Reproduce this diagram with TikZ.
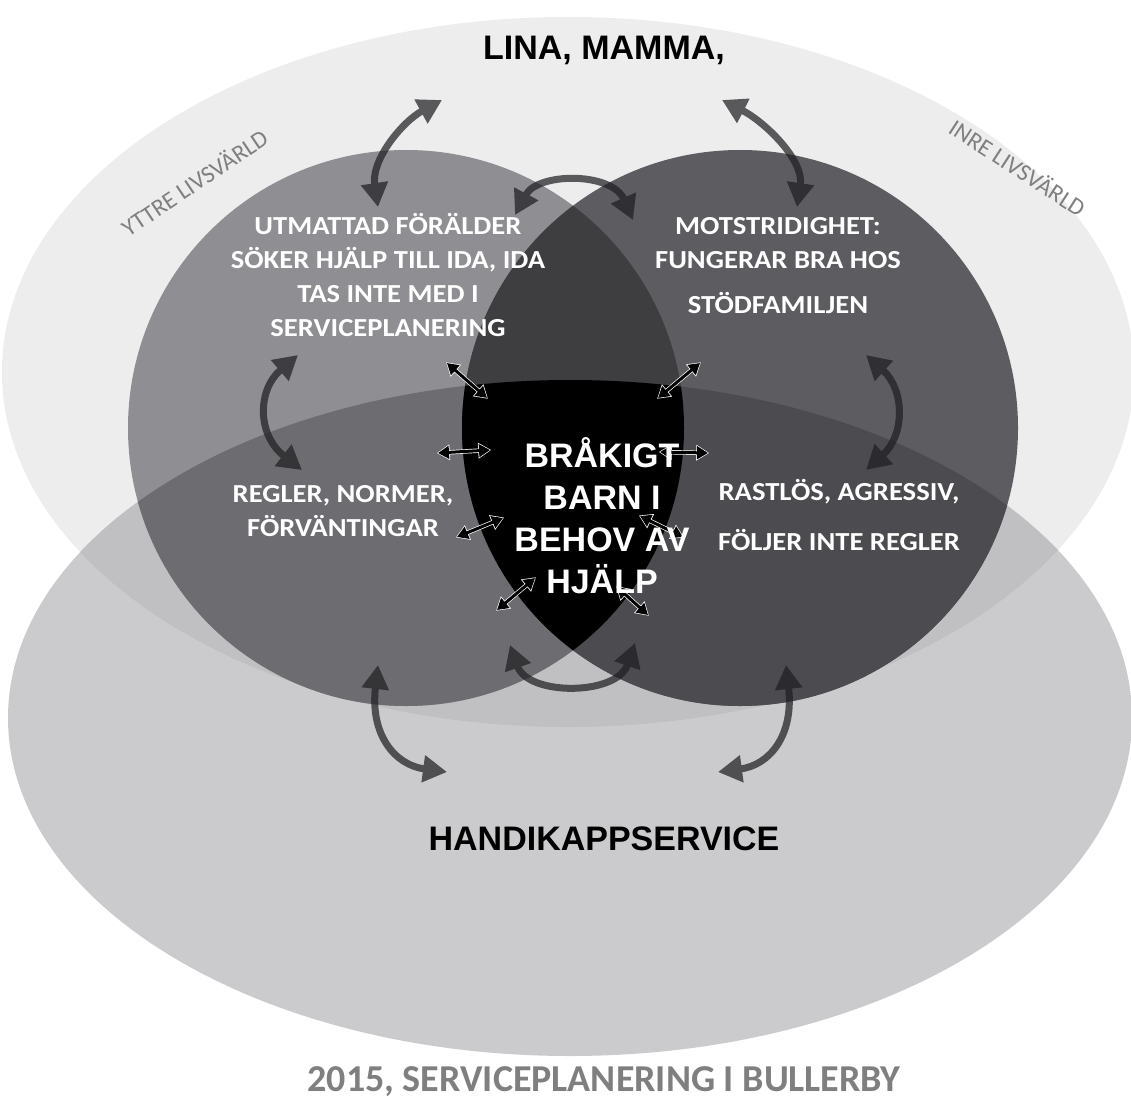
\documentclass[tikz,border=0pt]{standalone}
\usepackage{fontspec}
\setmainfont{Carlito}
\newfontfamily\calwide[FakeStretch=1.1]{Carlito}
\newfontfamily\arialfont{Liberation Sans}
\usetikzlibrary{arrows.meta}

\definecolor{cT}{HTML}{EDEDEE}
\definecolor{cB}{HTML}{CBCBCD}
\definecolor{cTB}{HTML}{C0C0C3}
\definecolor{cLt}{HTML}{8E8E93}
\definecolor{cLb}{HTML}{6C6C71}
\definecolor{cRt}{HTML}{5C5C61}
\definecolor{cRb}{HTML}{4B4B50}
\definecolor{cXt}{HTML}{3E3E41}
\definecolor{arrowc}{HTML}{202023}
\definecolor{labelc}{HTML}{7F7F7F}

\tikzset{
  bigarrow/.style={draw=arrowc, line width=7pt,
    {Triangle[length=24pt,width=26pt]}-{Triangle[length=24pt,width=26pt]}},
  smallwhite/.style={draw=white, line width=4.4pt, shorten <=-1.2pt, shorten >=-1.2pt,
    {Triangle[length=13pt,width=15pt]}-{Triangle[length=13pt,width=15pt]}},
  smallblack/.style={draw=black, line width=3pt,
    {Triangle[length=11pt,width=12.5pt]}-{Triangle[length=11pt,width=12.5pt]}},
  circtext/.style={text=white, inner sep=0pt, align=center,
    font=\calwide\fontsize{26}{34}\selectfont\bfseries},
  centertext/.style={text=white, inner sep=0pt, align=center,
    font=\arialfont\fontsize{34}{42}\selectfont\bfseries},
  titletext/.style={text=black, inner sep=0pt,
    font=\arialfont\fontsize{34}{40}\selectfont\bfseries},
  worldlabel/.style={text=labelc, inner sep=0pt,
    font=\fontsize{24}{28}\selectfont},
  captiontext/.style={text=labelc, inner sep=0pt,
    font=\fontsize{38}{44}\selectfont\bfseries},
}

\begin{document}
\begin{tikzpicture}[x=1pt, y=-1pt]
\useasboundingbox (0,0) rectangle (1131,1099);
\fill[white] (0,0) rectangle (1131,1099);

% big shapes
\fill[cT] (568,372) ellipse [x radius=566, y radius=355];
\fill[cB] (570,718) ellipse [x radius=562, y radius=338];
\begin{scope}
  \clip (568,372) ellipse [x radius=566, y radius=355];
  \fill[cTB] (570,718) ellipse [x radius=562, y radius=338];
\end{scope}
\fill[cLt] (406,428) circle [radius=278];
\begin{scope}
  \clip (570,718) ellipse [x radius=562, y radius=338];
  \fill[cLb] (406,428) circle [radius=278];
\end{scope}
\fill[cRt] (740,428) circle [radius=278];
\begin{scope}
  \clip (570,718) ellipse [x radius=562, y radius=338];
  \fill[cRb] (740,428) circle [radius=278];
\end{scope}
\begin{scope}
  \clip (406,428) circle [radius=278];
  \fill[cXt] (740,428) circle [radius=278];
  \clip (570,718) ellipse [x radius=562, y radius=338];
  \fill[black] (740,428) circle [radius=278];
\end{scope}

% arrow end points
\coordinate (a1s) at (378,207);  \coordinate (a1e) at (442,100);
\coordinate (a2s) at (797,207);  \coordinate (a2e) at (722,100);
\coordinate (a3s) at (515,215);  \coordinate (a3e) at (633,220);
\coordinate (a4s) at (510,645);  \coordinate (a4e) at (635,643);
\coordinate (a5s) at (298,355);  \coordinate (a5e) at (302,470);
\coordinate (a6s) at (866,355);  \coordinate (a6e) at (866,470);
\coordinate (a7s) at (378,665);  \coordinate (a7e) at (447,772);
\coordinate (a8s) at (786,665);  \coordinate (a8e) at (718,772);

\begin{scope}[transparency group, opacity=0.72]
\draw[bigarrow] (a1s) .. controls (371,160) and (402,122) .. (a1e);
\draw[bigarrow] (a2s) .. controls (804,160) and (765,122) .. (a2e);
\draw[bigarrow] (a3s) .. controls (538,172) and (612,172) .. (a3e);
\draw[bigarrow] (a4s) .. controls (528,696) and (617,696) .. (a4e);
\draw[bigarrow] (a5s) .. controls (257,390) and (257,435) .. (a5e);
\draw[bigarrow] (a6s) .. controls (905,390) and (905,435) .. (a6e);
\draw[bigarrow] (a7s) .. controls (370,735) and (395,765) .. (a7e);
\draw[bigarrow] (a8s) .. controls (794,735) and (770,765) .. (a8e);
\end{scope}

% small arrows around the centre
\coordinate (sa1) at (447,363); \coordinate (sa2) at (487,398);
\coordinate (sb1) at (700,363); \coordinate (sb2) at (658,398);
\coordinate (sc1) at (438,453); \coordinate (sc2) at (490,450);
\coordinate (sd1) at (660,452); \coordinate (sd2) at (708,453);
\coordinate (se1) at (457,537); \coordinate (se2) at (503,518);
\coordinate (sf1) at (640,516); \coordinate (sf2) at (683,537);
\coordinate (sg1) at (497,610); \coordinate (sg2) at (535,578);
\coordinate (sh1) at (617,587); \coordinate (sh2) at (648,615);
\foreach \p in {sa,sb,sc,sd,se,sf,sg,sh}{
  \draw[smallwhite] (\p1) -- (\p2);
  \draw[smallblack] (\p1) -- (\p2);
}

% texts
\node[titletext] (lina) at (604,50) {LINA, MAMMA,};
\node[worldlabel, rotate=34] (yttre) at (194,182) {YTTRE LIVSVÄRLD};
\node[worldlabel, rotate=-33] (inre) at (1018,167) {INRE LIVSVÄRLD};
\node[circtext] (utm) at (388,275) {UTMATTAD FÖRÄLDER\\SÖKER HJÄLP TILL IDA, IDA\\TAS INTE MED I\\SERVICEPLANERING};
\node[circtext] (mot) at (778,266) {MOTSTRIDIGHET:\\FUNGERAR BRA HOS\\[11pt]STÖDFAMILJEN};
\node[circtext] (regler) at (343,511) {REGLER, NORMER,\\FÖRVÄNTINGAR};
\node[circtext, font=\calwide\fontsize{26}{50}\selectfont\bfseries] (rastlos) at (839,515) {RASTLÖS, AGRESSIV,\\FÖLJER INTE REGLER};
\node[centertext] (barn) at (602,516) {BRÅKIGT\\BARN I\\BEHOV AV\\HJÄLP};
\node[titletext] (handi) at (604,839) {HANDIKAPPSERVICE};
\node[captiontext, anchor=base] (caption) at (604,1091) {2015, SERVICEPLANERING I BULLERBY};
\end{tikzpicture}
\end{document}
